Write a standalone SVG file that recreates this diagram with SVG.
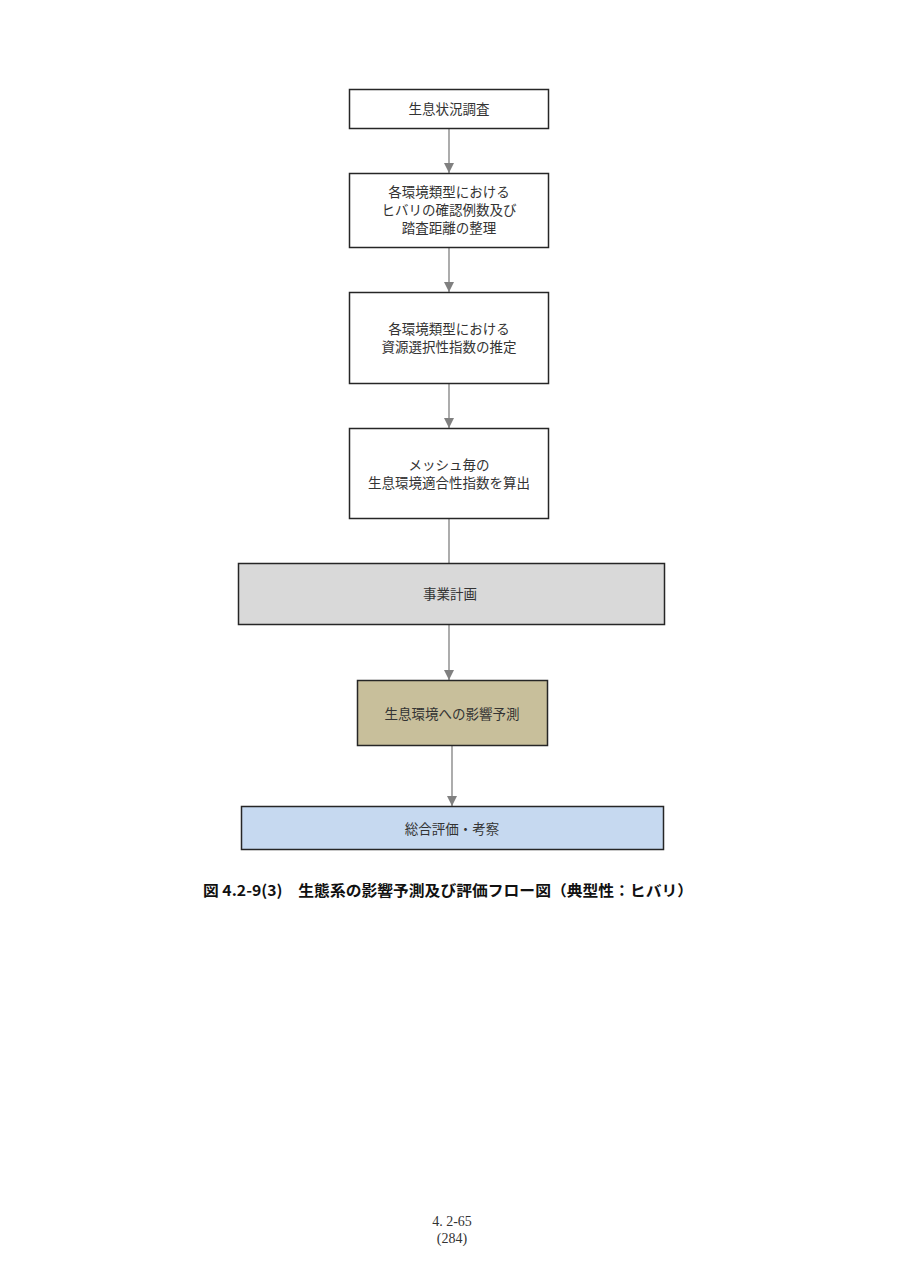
<svg xmlns="http://www.w3.org/2000/svg" width="905" height="1280" viewBox="0 0 905 1280">
<defs>
<marker id="ah" viewBox="0 0 10 10" refX="10" refY="5" markerWidth="10" markerHeight="10" markerUnits="userSpaceOnUse" orient="auto">
<path d="M0,0 L10,5 L0,10 z" fill="#808080"/>
</marker>
<style>
.box{stroke:#262626;stroke-width:1.5}
.t{font-family:"Liberation Serif","Noto Sans CJK JP",serif;font-size:13.5px;fill:#333;text-anchor:middle}
.c{stroke:#808080;stroke-width:1.3;fill:none}
.cap{font-family:"Noto Sans CJK JP",sans-serif;font-size:15px;font-weight:bold;fill:#111}
.pg{font-family:"Liberation Serif","Noto Sans CJK JP",serif;font-size:14px;fill:#333;text-anchor:middle}
</style>
</defs>
<rect width="905" height="1280" fill="#fff"/>
<g id="connectors">
<line class="c" x1="449" y1="128" x2="449" y2="173" marker-end="url(#ah)"/>
<line class="c" x1="449" y1="247" x2="449" y2="292" marker-end="url(#ah)"/>
<line class="c" x1="449" y1="383" x2="449" y2="428" marker-end="url(#ah)"/>
<line class="c" x1="449" y1="518" x2="449" y2="563"/>
<line class="c" x1="449" y1="624" x2="449" y2="680" marker-end="url(#ah)"/>
<line class="c" x1="452" y1="745" x2="452" y2="806" marker-end="url(#ah)"/>
</g>
<g id="n1"><rect class="box" x="349.5" y="89.5" width="199" height="39" fill="#fff"/>
<text class="t" x="449" y="114">生息状況調査</text></g>
<g id="n2"><rect class="box" x="349.5" y="173.5" width="199" height="74" fill="#fff"/>
<text class="t" x="449" y="197">各環境類型における</text>
<text class="t" x="449" y="215">ヒバリの確認例数及び</text>
<text class="t" x="449" y="233">踏査距離の整理</text></g>
<g id="n3"><rect class="box" x="349.5" y="292.5" width="199" height="91" fill="#fff"/>
<text class="t" x="449" y="334">各環境類型における</text>
<text class="t" x="449" y="352">資源選択性指数の推定</text></g>
<g id="n4"><rect class="box" x="349.5" y="428.5" width="199" height="90" fill="#fff"/>
<text class="t" x="449" y="470">メッシュ毎の</text>
<text class="t" x="449" y="488">生息環境適合性指数を算出</text></g>
<g id="n5"><rect class="box" x="238.5" y="563.5" width="426" height="61" fill="#d9d9d9"/>
<text class="t" x="450" y="599">事業計画</text></g>
<g id="n6"><rect class="box" x="357.5" y="680.5" width="190" height="65" fill="#c8bf9b"/>
<text class="t" x="452" y="719">生息環境への影響予測</text></g>
<g id="n7"><rect class="box" x="241.5" y="806.5" width="422" height="43" fill="#c6d9f0"/>
<text class="t" x="452" y="834">総合評価・考察</text></g>
<text class="cap" x="203" y="896" textLength="490" lengthAdjust="spacingAndGlyphs">図 4.2-9(3)　生態系の影響予測及び評価フロー図（典型性：ヒバリ）</text>
<text class="pg" x="452" y="1226">4. 2-65</text>
<text class="pg" x="452" y="1243">(284)</text>
</svg>
